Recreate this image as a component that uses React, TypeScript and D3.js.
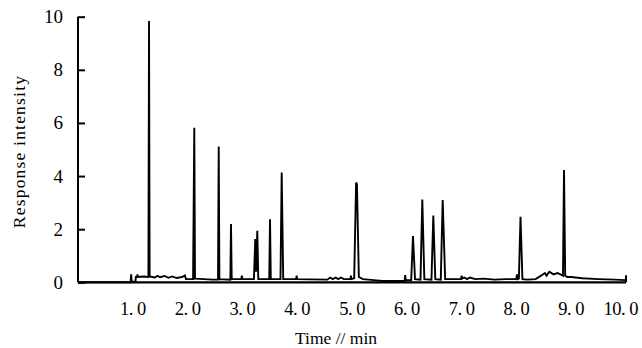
import { useEffect, useRef } from 'react';
import * as d3 from 'd3';

// ─── Data ───────────────────────────────────────────────────

const timeTicks = [1, 2, 3, 4, 5, 6, 7, 8, 9, 10];
const timeTickLabels = ['1. 0', '2. 0', '3. 0', '4. 0', '5. 0', '6. 0', '7. 0', '8. 0', '9. 0', '10. 0'];
const intensityTicks = [0, 2, 4, 6, 8, 10];

// chromatogram trace (time in min, response)
const traceTime = [
  0.0, 0.96, 0.97, 0.98, 1.05, 1.055, 1.08, 1.085, 1.09, 1.2,
  1.285, 1.296, 1.307, 1.4, 1.45, 1.5, 1.58, 1.65, 1.72, 1.8,
  1.9, 1.95, 1.97, 2.1, 2.122, 2.135, 2.3, 2.45, 2.555, 2.568,
  2.58, 2.78, 2.792, 2.805, 2.98, 2.99, 3.0, 3.21, 3.235, 3.25,
  3.272, 3.29, 3.49, 3.504, 3.518, 3.695, 3.717, 3.745, 3.98, 3.99,
  4.0, 4.55, 4.6, 4.65, 4.7, 4.75, 4.8, 4.85, 4.97, 4.98,
  4.99, 5.04, 5.075, 5.09, 5.125, 5.2, 5.4, 5.55, 5.96, 5.97,
  5.98, 6.08, 6.113, 6.15, 6.25, 6.283, 6.32, 6.45, 6.484, 6.52,
  6.62, 6.655, 6.7, 6.99, 7.0, 7.01, 7.05, 7.1, 7.15, 7.25,
  7.4, 7.6, 7.8, 8.0, 8.01, 8.02, 8.045, 8.075, 8.11, 8.2,
  8.35, 8.45, 8.52, 8.55, 8.6, 8.68, 8.75, 8.85, 8.869, 8.89,
  8.93, 9.0, 9.2, 9.5, 9.8, 9.99,
];
const traceIntensity = [
  0.0, 0.0, 0.3, 0.02, 0.03, 0.2, 0.2, 0.3, 0.2, 0.22,
  0.2, 9.84, 0.22, 0.18, 0.24, 0.19, 0.24, 0.17, 0.22, 0.16,
  0.2, 0.26, 0.12, 0.12, 5.82, 0.14, 0.12, 0.1, 0.1, 5.11,
  0.12, 0.1, 2.19, 0.12, 0.12, 0.25, 0.12, 0.12, 1.63, 0.4,
  1.94, 0.12, 0.12, 2.37, 0.12, 0.12, 4.13, 0.12, 0.12, 0.25,
  0.12, 0.1, 0.18, 0.12, 0.18, 0.12, 0.18, 0.12, 0.12, 0.25,
  0.12, 0.15, 3.76, 3.7, 0.2, 0.12, 0.08, 0.05, 0.05, 0.27,
  0.08, 0.08, 1.74, 0.12, 0.1, 3.12, 0.12, 0.1, 2.51, 0.12,
  0.1, 3.1, 0.12, 0.12, 0.25, 0.14, 0.18, 0.12, 0.18, 0.12,
  0.14, 0.1, 0.12, 0.12, 0.3, 0.12, 0.14, 2.47, 0.12, 0.1,
  0.12, 0.25, 0.35, 0.25, 0.4, 0.3, 0.35, 0.25, 4.23, 0.25,
  0.2, 0.2, 0.15, 0.12, 0.1, 0.08,
];

// ─── Component ──────────────────────────────────────────────

const WIDTH = 642;
const HEIGHT = 348;

function Chromatogram() {
  const svgRef = useRef<SVGSVGElement>(null);

  useEffect(() => {
    if (!svgRef.current) return;
    const svg = d3.select(svgRef.current);
    svg.selectAll('*').remove();

    const margin = { top: 16.7, right: 16, bottom: 65.7, left: 78 };
    const font = '"Liberation Serif", "Times New Roman", serif';

    const x = d3.scaleLinear().domain([0, 10]).range([margin.left, WIDTH - margin.right]);
    const y = d3.scaleLinear().domain([0, 10]).range([HEIGHT - margin.bottom, margin.top]);

    const data = traceTime.map((t, i) => ({ t, v: traceIntensity[i] }));

    // Trace
    const line = d3.line<{ t: number; v: number }>()
      .x((d) => x(d.t))
      .y((d) => y(d.v));

    svg.append('path')
      .datum(data)
      .attr('fill', 'none')
      .attr('stroke', '#000')
      .attr('stroke-width', 1.9)
      .attr('stroke-linejoin', 'miter')
      .attr('d', line);

    // Y axis (ticks pointing inward)
    const yAxis = svg.append('g')
      .attr('transform', `translate(${margin.left},0)`)
      .call(d3.axisRight(y).tickValues(intensityTicks).tickSize(7).tickFormat(() => ''));
    yAxis.selectAll('line, path').attr('stroke', '#000').attr('stroke-width', 2);
    yAxis.select('.domain').attr('d', `M0,${y(10)}V${y(0)}`);

    svg.append('g')
      .selectAll('text')
      .data(intensityTicks)
      .join('text')
      .attr('x', margin.left - 15)
      .attr('y', (d) => y(d))
      .attr('dy', '0.34em')
      .attr('text-anchor', 'end')
      .style('font-family', font)
      .style('font-size', '19px')
      .text((d) => String(d));

    // X axis
    svg.append('line')
      .attr('x1', x(0))
      .attr('x2', x(10))
      .attr('y1', y(0))
      .attr('y2', y(0))
      .attr('stroke', '#000')
      .attr('stroke-width', 2.2);
    svg.append('line')
      .attr('x1', x(10))
      .attr('x2', x(10))
      .attr('y1', y(0))
      .attr('y2', y(0) - 7)
      .attr('stroke', '#000')
      .attr('stroke-width', 2);

    const labels = svg.append('g')
      .selectAll('text')
      .data(timeTicks)
      .join('text')
      .attr('x', (d) => x(d))
      .attr('y', 315)
      .attr('text-anchor', 'middle')
      .style('font-family', font)
      .style('font-size', '18.5px')
      .style('letter-spacing', '-0.5px')
      .text((_, i) => timeTickLabels[i]);

    // keep last label inside the frame
    labels.each(function (d) {
      const node = this as SVGTextElement;
      const half = node.getComputedTextLength() / 2;
      const cx = Math.min(x(d), WIDTH - 4 - half);
      d3.select(node).attr('x', cx);
    });

    // Axis titles
    svg.append('text')
      .attr('x', 336)
      .attr('y', 344)
      .attr('text-anchor', 'middle')
      .style('font-family', font)
      .style('font-size', '17.5px')
      .text('Time // min');

    svg.append('text')
      .attr('transform', `translate(25,${(y(0) + y(10)) / 2 + 2}) rotate(-90)`)
      .attr('text-anchor', 'middle')
      .style('font-family', font)
      .style('font-size', '17.5px')
      .style('letter-spacing', '1.2px')
      .text('Response intensity');
  }, []);

  return <svg ref={svgRef} width={WIDTH} height={HEIGHT} style={{ display: 'block', background: '#fff' }} />;
}

export default function App() {
  useEffect(() => {
    document.body.style.margin = '0';
  }, []);
  return <Chromatogram />;
}
